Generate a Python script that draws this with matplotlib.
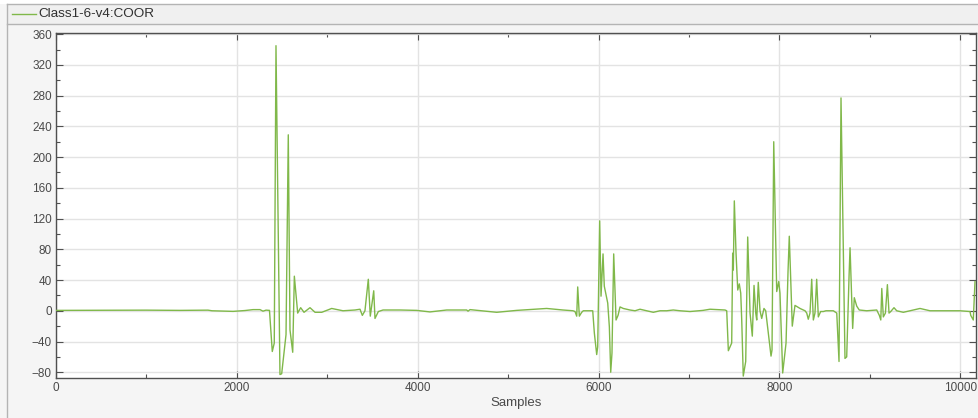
import matplotlib.pyplot as plt
from matplotlib.ticker import MultipleLocator
from matplotlib.patches import Rectangle
from matplotlib.lines import Line2D

plt.rcParams['font.family'] = ['Liberation Sans', 'DejaVu Sans']

# signal (sample index, value)
samples = [0, 995, 1371, 1681, 1725, 1958, 2090, 2179, 2256, 2289, 2323, 2361,
           2392, 2414, 2433, 2477, 2496, 2544, 2569, 2588, 2618, 2636, 2673, 2706,
           2743, 2809, 2865, 2939, 3049, 3174, 3307, 3362, 3388, 3417, 3454, 3476,
           3514, 3528, 3565, 3617, 3805, 3989, 4136, 4321, 4542, 4557, 4579, 4874,
           5095, 5427, 5607, 5718, 5740, 5759, 5770, 5788, 5814, 5832, 5936, 5954,
           5980, 5991, 6013, 6028, 6050, 6064, 6102, 6120, 6135, 6149, 6168, 6194,
           6216, 6238, 6274, 6348, 6404, 6459, 6533, 6606, 6680, 6754, 6827, 6901,
           7012, 7156, 7233, 7399, 7418, 7436, 7473, 7484, 7491, 7502, 7521, 7540,
           7557, 7573, 7584, 7601, 7628, 7650, 7676, 7701, 7720, 7739, 7750, 7767,
           7786, 7805, 7830, 7849, 7878, 7908, 7919, 7938, 7971, 7993, 8007, 8037,
           8074, 8096, 8110, 8126, 8143, 8173, 8229, 8284, 8303, 8320, 8339, 8358,
           8376, 8394, 8413, 8431, 8457, 8486, 8516, 8597, 8635, 8660, 8682, 8726,
           8745, 8771, 8782, 8800, 8811, 8829, 8856, 8884, 8966, 9077, 9106, 9122,
           9133, 9150, 9173, 9195, 9213, 9232, 9268, 9298, 9371, 9445, 9556, 9666,
           9810, 9998, 10109, 10117, 10145, 10164]
values = [0.5, 0.8, 0.5, 0.8, 0, -0.8, 0.3, 1.5, 1.5, -0.5, 0.8, 0.5,
          -53, -42, 345, -83, -82, -31, 229, -25, -54, 45, -3, 4,
          -2, 4, -2, -2, 3, 0, 1, 2, -6, 0, 41, -7,
          26, -10, -1, 1, 1, 0.5, -1.5, 1, 1, -0.5, 1.5, -2,
          0.5, 3, 1, 0, -1, -7, 31, -7, -2, 0, 0, -29,
          -57, -47, 117, 19, 74, 32, 10, -21, -80, -55, 74, -12,
          -6, 5, 3, 1, 0, 2, 0, -2, 0, 0, 1, 0,
          -1, 0.5, 2, 1, 0, -52, -42, 75, 53, 143, 75, 27,
          35, 23, -12, -85, -66, 96, -3, -33, 33, -3, -12, 37,
          0, -10, 3, 0, -29, -59, -51, 220, 25, 38, 23, -81,
          -42, 51, 97, 40, -20, 7, 3, 0, -3, -11, -3, 41,
          -12, -3, 41, -8, -1, -1, 0, 0, -3, -66, 277, -62,
          -60, 45, 82, 19, -23, 17, 6, 1, 0, 1, -6, -12,
          29, -8, -3, 34, -3, -1, 4, 0, -2, 0, 3, 0,
          0, 0, -1, -6, -12, 38]

signal_name = 'Class1-6-v4:COOR'
line_color = '#80b84a'
text_color = '#4a4a4a'

fig = plt.figure(figsize=(9.79, 4.18), dpi=100)
fig.patch.set_facecolor('#f5f5f5')
W, H = 979.0, 418.0

# frame and legend band
fig.patches.append(Rectangle((0, 1 - 4 / H), 1, 4 / H, transform=fig.transFigure,
                             facecolor='white', edgecolor='none', zorder=0))
fig.patches.append(Rectangle((7 / W, 1 - 24 / H), 1, 20 / H, transform=fig.transFigure,
                             facecolor='#f0f0f0', edgecolor='none', zorder=0))
for yy in (4, 24):
    fig.lines.append(Line2D([7 / W, 1], [1 - yy / H, 1 - yy / H], transform=fig.transFigure,
                            color='#b4b4b4', lw=1))
fig.lines.append(Line2D([7 / W, 7 / W], [0, 1 - 4 / H], transform=fig.transFigure,
                        color='#b4b4b4', lw=1))
fig.lines.append(Line2D([12 / W, 36 / W], [1 - 14 / H, 1 - 14 / H], transform=fig.transFigure,
                        color=line_color, lw=1))
fig.text(38 / W, 1 - 14 / H, signal_name, fontsize=9.7, color='#303030', va='center', ha='left')

ax = fig.add_axes([56 / W, 40 / H, 920 / W, 345 / H])
ax.set_facecolor('white')
ax.plot(samples, values, color=line_color, lw=1, zorder=3)

ax.set_xlim(0, 10175)
ax.set_ylim(-87.5, 361.5)
ax.xaxis.set_major_locator(MultipleLocator(2000))
ax.xaxis.set_minor_locator(MultipleLocator(1000))
ax.yaxis.set_major_locator(MultipleLocator(40))
ax.yaxis.set_minor_locator(MultipleLocator(20))
ax.grid(True, which='major', color='#e3e3e3', lw=1)
ax.set_axisbelow(True)

ax.tick_params(which='both', direction='in', top=True, right=True, colors='#505050',
               labelcolor=text_color, labelsize=8.5, width=0.8)
ax.tick_params(which='major', length=5, pad=3)
ax.tick_params(which='minor', length=3)
for s in ax.spines.values():
    s.set_color('#505050')
    s.set_linewidth(1)

ax.set_xlabel('Samples', fontsize=9.5, color=text_color, labelpad=2)

plt.savefig('out.png', dpi=100, facecolor=fig.get_facecolor())
